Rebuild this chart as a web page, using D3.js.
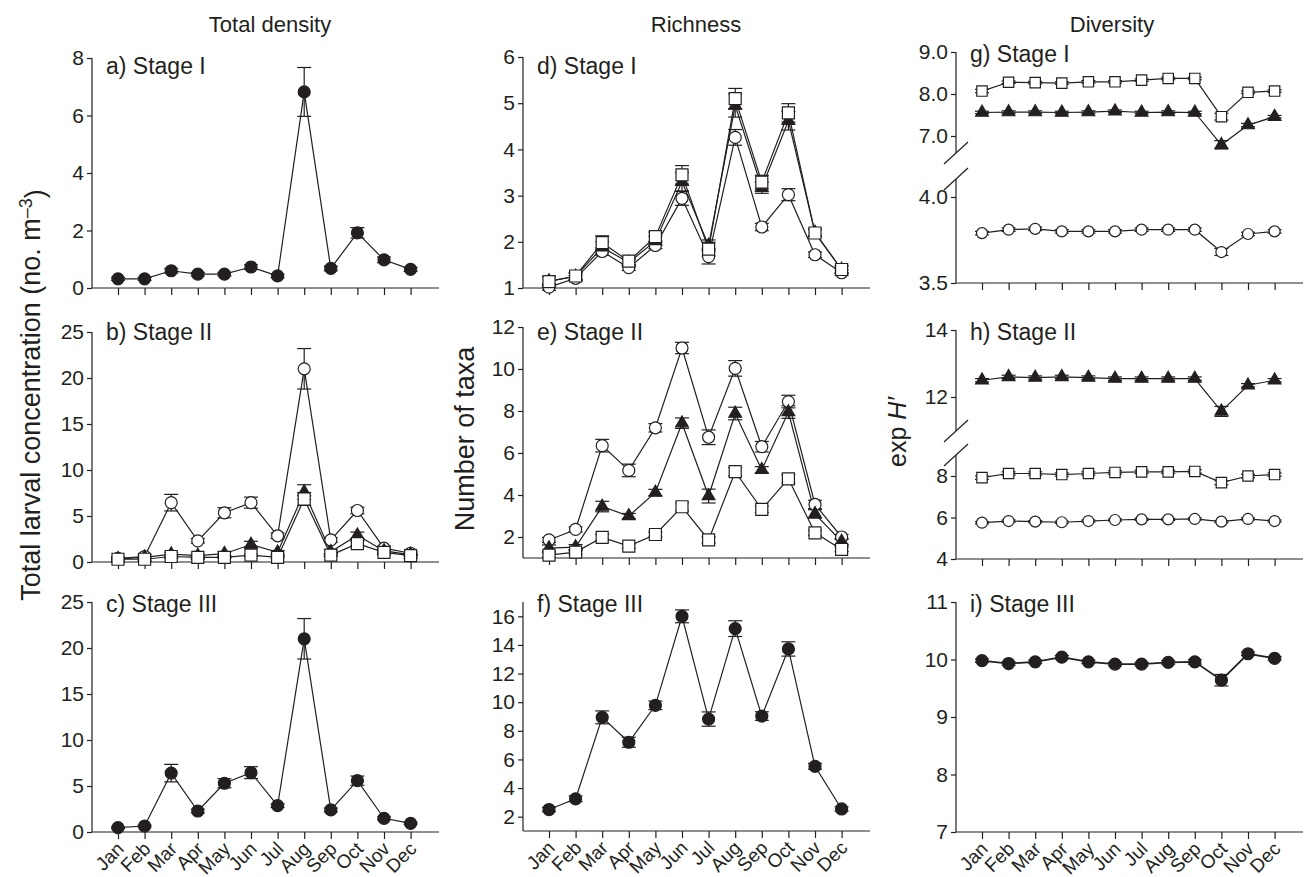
<!DOCTYPE html>
<html>
<head>
<meta charset="utf-8">
<script src="https://cdnjs.cloudflare.com/ajax/libs/d3/7.8.5/d3.min.js"></script>
<style>
  body { margin: 0; background: #fff; }
  svg text { font-family: "Liberation Sans", Arial, Helvetica, sans-serif; fill: #231f20; }
</style>
</head>
<body>
<script>
// Meses del eje x
const months = ["Jan", "Feb", "Mar", "Apr", "May", "Jun", "Jul", "Aug", "Sep", "Oct", "Nov", "Dec"];

// Marcas del eje y
const ticksDensI = [0, 2, 4, 6, 8];
const ticksDens = [0, 5, 10, 15, 20, 25];
const ticksRichI = [1, 2, 3, 4, 5, 6];
const ticksRichII = [2, 4, 6, 8, 10, 12];
const ticksRichIII = [2, 4, 6, 8, 10, 12, 14, 16];
const ticksDivIUp = [7, 8, 9];
const ticksDivILow = [3.5, 4];
const ticksDivIIUp = [12, 14];
const ticksDivIILow = [4, 6, 8];
const ticksDivIII = [7, 8, 9, 10, 11];

// a) densidad estadio I
const densI = [0.32, 0.32, 0.6, 0.48, 0.48, 0.73, 0.42, 6.82, 0.68, 1.92, 0.98, 0.65];
const densISe = [0.05, 0.05, 0.08, 0.06, 0.06, 0.08, 0.06, 0.85, 0.08, 0.18, 0.1, 0.07];

// b) densidad estadio II (circulo, triangulo, cuadrado)
const densIICirc = [0.4, 0.6, 6.45, 2.3, 5.35, 6.45, 2.85, 21.0, 2.4, 5.6, 1.5, 0.95];
const densIICircSe = [0.15, 0.2, 0.9, 0.25, 0.55, 0.6, 0.3, 2.2, 0.25, 0.35, 0.2, 0.15];
const densIITri = [0.35, 0.5, 0.85, 0.7, 0.9, 1.9, 1.05, 7.6, 1.1, 2.9, 1.2, 0.8];
const densIITriSe = [0.1, 0.1, 0.2, 0.15, 0.2, 0.35, 0.2, 0.8, 0.2, 0.35, 0.15, 0.1];
const densIISq = [0.3, 0.3, 0.6, 0.5, 0.5, 0.75, 0.5, 6.85, 0.75, 2.0, 1.05, 0.7];
const densIISqSe = [0.1, 0.1, 0.15, 0.1, 0.1, 0.15, 0.1, 0.7, 0.15, 0.25, 0.15, 0.1];

// c) densidad estadio III
const densIII = [0.47, 0.65, 6.4, 2.28, 5.3, 6.45, 2.86, 21.0, 2.4, 5.58, 1.49, 0.94];
const densIIISe = [0.1, 0.1, 0.95, 0.2, 0.5, 0.65, 0.2, 2.2, 0.2, 0.5, 0.15, 0.1];

// d) riqueza estadio I
const richICirc = [1.02, 1.21, 1.79, 1.44, 1.92, 2.94, 1.68, 4.26, 2.32, 3.02, 1.72, 1.33];
const richICircSe = [0.07, 0.06, 0.08, 0.06, 0.07, 0.15, 0.16, 0.17, 0.08, 0.13, 0.06, 0.06];
const richITri = [1.15, 1.25, 1.88, 1.55, 2.02, 3.3, 1.92, 4.95, 3.17, 4.62, 2.2, 1.4];
const richITriSe = [0.1, 0.07, 0.12, 0.07, 0.1, 0.2, 0.12, 0.25, 0.12, 0.2, 0.08, 0.08];
const richISq = [1.14, 1.26, 1.98, 1.58, 2.11, 3.45, 1.84, 5.1, 3.29, 4.79, 2.19, 1.4];
const richISqSe = [0.1, 0.07, 0.15, 0.07, 0.1, 0.2, 0.15, 0.22, 0.15, 0.2, 0.08, 0.08];

// e) riqueza estadio II
const richIICirc = [1.86, 2.36, 6.35, 5.17, 7.2, 11.0, 6.75, 10.03, 6.3, 8.45, 3.55, 2.0];
const richIICircSe = [0.12, 0.12, 0.3, 0.3, 0.2, 0.27, 0.35, 0.37, 0.25, 0.3, 0.2, 0.12];
const richIITri = [1.47, 1.52, 3.45, 3.0, 4.12, 7.42, 3.95, 7.88, 5.2, 7.95, 3.1, 1.78];
const richIITriSe = [0.15, 0.12, 0.25, 0.12, 0.15, 0.25, 0.33, 0.3, 0.15, 0.3, 0.2, 0.15];
const richIISq = [1.14, 1.28, 1.98, 1.57, 2.12, 3.44, 1.86, 5.11, 3.32, 4.77, 2.2, 1.41];
const richIISqSe = [0.1, 0.1, 0.15, 0.1, 0.12, 0.2, 0.15, 0.2, 0.15, 0.2, 0.12, 0.1];

// f) riqueza estadio III
const richIII = [2.5, 3.25, 8.94, 7.2, 9.78, 16.0, 8.82, 15.14, 9.03, 13.72, 5.52, 2.54];
const richIIISe = [0.15, 0.2, 0.45, 0.35, 0.3, 0.45, 0.5, 0.55, 0.3, 0.5, 0.2, 0.15];

// g) diversidad estadio I
const divISq = [8.07, 8.28, 8.27, 8.26, 8.29, 8.29, 8.33, 8.37, 8.37, 7.46, 8.04, 8.07];
const divISqSe = [0.04, 0.03, 0.03, 0.03, 0.03, 0.03, 0.03, 0.03, 0.03, 0.08, 0.03, 0.03];
const divITri = [7.56, 7.57, 7.57, 7.56, 7.57, 7.59, 7.56, 7.57, 7.56, 6.79, 7.26, 7.46];
const divITriSe = [0.03, 0.03, 0.03, 0.03, 0.03, 0.03, 0.03, 0.03, 0.03, 0.1, 0.04, 0.03];
const divICirc = [3.79, 3.81, 3.815, 3.8, 3.8, 3.8, 3.81, 3.81, 3.81, 3.68, 3.785, 3.8];
const divICircSe = [0.01, 0.01, 0.01, 0.01, 0.01, 0.01, 0.01, 0.01, 0.01, 0.02, 0.01, 0.01];

// h) diversidad estadio II
const divIITri = [12.5, 12.6, 12.58, 12.6, 12.58, 12.55, 12.55, 12.55, 12.55, 11.57, 12.35, 12.5];
const divIITriSe = [0.05, 0.05, 0.05, 0.05, 0.05, 0.05, 0.05, 0.05, 0.05, 0.15, 0.05, 0.05];
const divIISq = [7.92, 8.12, 8.12, 8.07, 8.12, 8.17, 8.2, 8.2, 8.22, 7.68, 8.0, 8.07];
const divIISqSe = [0.08, 0.08, 0.08, 0.08, 0.08, 0.08, 0.08, 0.08, 0.08, 0.1, 0.08, 0.08];
const divIICirc = [5.75, 5.83, 5.8, 5.77, 5.83, 5.88, 5.91, 5.91, 5.93, 5.8, 5.93, 5.83];
const divIICircSe = [0.05, 0.05, 0.05, 0.05, 0.05, 0.05, 0.05, 0.05, 0.05, 0.05, 0.05, 0.05];

// i) diversidad estadio III
const divIII = [9.98, 9.93, 9.96, 10.04, 9.96, 9.92, 9.92, 9.95, 9.96, 9.64, 10.1, 10.02];
const divIIISe = [0.03, 0.03, 0.03, 0.03, 0.03, 0.03, 0.03, 0.03, 0.04, 0.1, 0.03, 0.03];

const ink = "#231f20";
const [w, h] = [1304, 877];

const svg = d3.select("body").append("svg")
    .attr("width", w)
    .attr("height", h);

// Paneles: posicion del eje, segmentos de escala (con corte en g y h) y series
const panels = [
    { ax: 92, bottom: 288, lab: "a) Stage I", labY: 74,
      segs: [{ dom: [0, 8], rng: [288, 58], line: [58, 288], ticks: ticksDensI }],
      series: [{ v: densI, se: densISe, shape: "dot" }] },
    { ax: 92, bottom: 562, lab: "b) Stage II", labY: 340,
      segs: [{ dom: [0, 25], rng: [562, 332], line: [332, 562], ticks: ticksDens }],
      series: [{ v: densIICirc, se: densIICircSe, shape: "circle" },
               { v: densIITri, se: densIITriSe, shape: "tri" },
               { v: densIISq, se: densIISqSe, shape: "square" }] },
    { ax: 92, bottom: 832, lab: "c) Stage III", labY: 612, months: true,
      segs: [{ dom: [0, 25], rng: [832, 602], line: [602, 832], ticks: ticksDens }],
      series: [{ v: densIII, se: densIIISe, shape: "dot" }] },

    { ax: 523, bottom: 288, lab: "d) Stage I", labY: 74,
      segs: [{ dom: [1, 6], rng: [288, 57], line: [57, 288], ticks: ticksRichI }],
      series: [{ v: richICirc, se: richICircSe, shape: "circle" },
               { v: richITri, se: richITriSe, shape: "tri" },
               { v: richISq, se: richISqSe, shape: "square" }] },
    { ax: 523, bottom: 558, lab: "e) Stage II", labY: 340,
      segs: [{ dom: [1, 12], rng: [558, 327], line: [327, 558], ticks: ticksRichII }],
      series: [{ v: richIICirc, se: richIICircSe, shape: "circle" },
               { v: richIITri, se: richIITriSe, shape: "tri" },
               { v: richIISq, se: richIISqSe, shape: "square" }] },
    { ax: 523, bottom: 831, lab: "f) Stage III", labY: 612, months: true,
      segs: [{ dom: [1, 17], rng: [831, 602], line: [602, 831], ticks: ticksRichIII }],
      series: [{ v: richIII, se: richIIISe, shape: "dot" }] },

    { ax: 956, bottom: 283, lab: "g) Stage I", labY: 62, breaks: [153, 179],
      segs: [{ dom: [7, 9], rng: [136, 52], line: [52, 153], ticks: ticksDivIUp, fmt: ".1f" },
             { dom: [3.5, 4], rng: [283, 197], line: [179, 283], ticks: ticksDivILow, fmt: ".1f" }],
      series: [{ v: divISq, se: divISqSe, shape: "square", seg: 0, r: 5.2 },
               { v: divITri, se: divITriSe, shape: "tri", seg: 0 },
               { v: divICirc, se: divICircSe, shape: "circle", seg: 1, r: 5.5 }] },
    { ax: 956, bottom: 559, lab: "h) Stage II", labY: 340, breaks: [431, 455],
      segs: [{ dom: [12, 14], rng: [397, 330], line: [330, 431], ticks: ticksDivIIUp },
             { dom: [4, 8], rng: [559, 476], line: [455, 559], ticks: ticksDivIILow }],
      series: [{ v: divIITri, se: divIITriSe, shape: "tri", seg: 0 },
               { v: divIISq, se: divIISqSe, shape: "square", seg: 1, r: 5.2 },
               { v: divIICirc, se: divIICircSe, shape: "circle", seg: 1, r: 5.5 }] },
    { ax: 956, bottom: 832, lab: "i) Stage III", labY: 612, months: true,
      segs: [{ dom: [7, 11], rng: [832, 602], line: [602, 832], ticks: ticksDivIII }],
      series: [{ v: divIII, se: divIIISe, shape: "dot", sw: 1.8 }] }
];

panels.forEach(drawPanel);

function drawPanel(p) {
    const g = svg.append("g");

    // Escala x de los meses
    const x = d3.scalePoint()
        .domain(months)
        .range([p.ax + 26, p.ax + 26 + 26.6 * 11]);

    // Ejes y (uno por segmento)
    p.segs.forEach((s) => {
        s.y = d3.scaleLinear().domain(s.dom).range(s.rng);
        g.append("line")
            .attr("x1", p.ax).attr("x2", p.ax)
            .attr("y1", s.line[0]).attr("y2", s.line[1])
            .attr("stroke", ink).attr("stroke-width", 1.2);
        const yAxis = d3.axisLeft(s.y)
            .tickValues(s.ticks)
            .tickSize(5)
            .tickPadding(3)
            .tickFormat(d3.format(s.fmt || "d"));
        g.append("g")
            .attr("transform", "translate(" + p.ax + ",0)")
            .call(yAxis)
            .call((a) => a.select(".domain").remove())
            .call((a) => a.selectAll("line").attr("stroke", ink).attr("stroke-width", 1.2))
            .call((a) => a.selectAll("text").attr("font-size", 21).attr("fill", ink)
                .style("font-family", "'Liberation Sans', Arial, sans-serif"));
    });

    // Marcas de corte del eje
    if (p.breaks) {
        p.breaks.forEach((by) => {
            g.append("line")
                .attr("x1", p.ax - 12).attr("y1", by + 11)
                .attr("x2", p.ax + 12).attr("y2", by - 11)
                .attr("stroke", ink).attr("stroke-width", 1.2);
        });
    }

    // Eje x
    g.append("line")
        .attr("x1", p.ax).attr("x2", p.ax + 347)
        .attr("y1", p.bottom).attr("y2", p.bottom)
        .attr("stroke", ink).attr("stroke-width", 1.2);
    g.append("g")
        .attr("transform", "translate(0," + p.bottom + ")")
        .call(d3.axisBottom(x).tickSize(7).tickFormat(""))
        .call((a) => a.select(".domain").remove())
        .call((a) => a.selectAll("line").attr("stroke", ink).attr("stroke-width", 1.2));

    // Meses girados en la fila de abajo
    if (p.months) {
        g.selectAll(".month")
            .data(months)
            .enter()
            .append("text")
            .attr("class", "month")
            .attr("transform", (d) => "translate(" + (x(d) - 3) + "," + (p.bottom + 8) + ") rotate(-45)")
            .attr("text-anchor", "end")
            .attr("dy", "0.75em")
            .attr("font-size", 19)
            .text((d) => d);
    }

    // Titulo del panel
    g.append("text")
        .attr("x", p.ax + 14)
        .attr("y", p.labY)
        .attr("font-size", 23)
        .text(p.lab);

    // Lineas de las series
    p.series.forEach((s) => {
        const y = p.segs[s.seg || 0].y;
        g.append("path")
            .datum(s.v)
            .attr("d", d3.line().x((d, i) => x(months[i])).y((d) => y(d)))
            .attr("fill", "none")
            .attr("stroke", ink)
            .attr("stroke-width", s.sw || 1.2);
    });

    // Barras de error
    p.series.forEach((s) => {
        const y = p.segs[s.seg || 0].y;
        const rows = s.v.map((v, i) => ({ m: months[i], v: v, e: s.se[i] }));
        const eb = g.append("g").attr("stroke", ink).attr("stroke-width", 1.2);
        eb.selectAll(".ev").data(rows).enter().append("line")
            .attr("x1", (d) => x(d.m)).attr("x2", (d) => x(d.m))
            .attr("y1", (d) => y(d.v - d.e)).attr("y2", (d) => y(d.v + d.e));
        eb.selectAll(".et").data(rows).enter().append("line")
            .attr("x1", (d) => x(d.m) - 7).attr("x2", (d) => x(d.m) + 7)
            .attr("y1", (d) => y(d.v + d.e)).attr("y2", (d) => y(d.v + d.e));
        eb.selectAll(".eb").data(rows).enter().append("line")
            .attr("x1", (d) => x(d.m) - 7).attr("x2", (d) => x(d.m) + 7)
            .attr("y1", (d) => y(d.v - d.e)).attr("y2", (d) => y(d.v - d.e));
    });

    // Marcadores
    p.series.forEach((s) => {
        const y = p.segs[s.seg || 0].y;
        const r = s.r || 6;
        const sel = g.append("g").selectAll("path")
            .data(s.v)
            .enter()
            .append("path")
            .attr("transform", (d, i) => "translate(" + x(months[i]) + "," + y(d) + ")")
            .attr("stroke", ink)
            .attr("stroke-width", 1.2);
        if (s.shape === "dot" || s.shape === "circle") {
            sel.attr("d", d3.symbol().type(d3.symbolCircle).size(Math.PI * r * r))
                .attr("fill", s.shape === "dot" ? ink : "#fff");
        } else if (s.shape === "tri") {
            sel.attr("d", d3.symbol().type(d3.symbolTriangle).size(70)).attr("fill", ink);
        } else {
            sel.attr("d", d3.symbol().type(d3.symbolSquare).size((2 * r) * (2 * r))).attr("fill", "#fff");
        }
    });
}

// Titulos de columna
[["Total density", 270], ["Richness", 696], ["Diversity", 1112]].forEach((t) => {
    svg.append("text")
        .attr("x", t[1]).attr("y", 32)
        .attr("text-anchor", "middle")
        .attr("font-size", 22)
        .text(t[0]);
});

// Titulos de los ejes y
const yt1 = svg.append("text")
    .attr("transform", "translate(40,395) rotate(-90)")
    .attr("text-anchor", "middle")
    .attr("font-size", 27);
yt1.append("tspan").text("Total larval concentration (no. m");
yt1.append("tspan").attr("dy", "-0.45em").attr("font-size", 18).text("\u20133");
yt1.append("tspan").attr("dy", "0.45em").text(")");

svg.append("text")
    .attr("transform", "translate(474,439) rotate(-90)")
    .attr("text-anchor", "middle")
    .attr("font-size", 27)
    .text("Number of taxa");

const yt3 = svg.append("text")
    .attr("transform", "translate(906,432) rotate(-90)")
    .attr("text-anchor", "middle")
    .attr("font-size", 25);
yt3.append("tspan").text("exp ");
yt3.append("tspan").attr("font-style", "italic").text("H\u2032");
</script>
</body>
</html>
